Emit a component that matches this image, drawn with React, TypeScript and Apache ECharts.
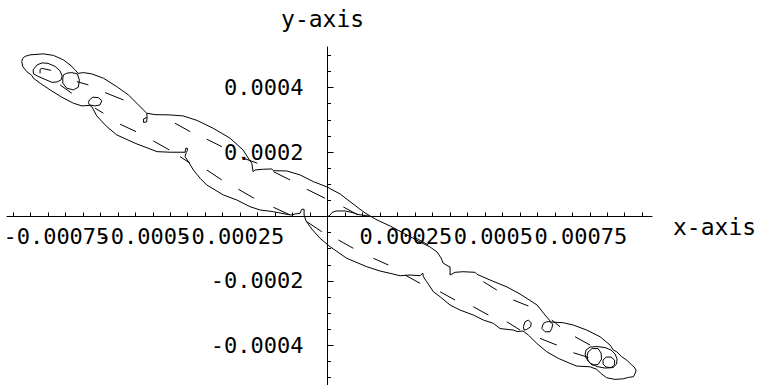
import { useEffect, useRef } from "react";
import * as echarts from "echarts";

// Contour coordinates below are stored in units of 1e-5.
const UNIT = 1e-5;

const FONT = "DejaVu Sans Mono";

const X_MIN = -0.000917;
const X_MAX = 0.000928;
const Y_MIN = -0.000523;
const Y_MAX = 0.000526;

const X_LABEL_VALUES = [-0.00075, -0.0005, -0.00025, 0.00025, 0.0005, 0.00075];
const X_LABEL_TEXT = ["-0.00075", "-0.0005", "-0.00025", "0.00025", "0.0005", "0.00075"];
const Y_LABEL_VALUES = [-0.0004, -0.0002, 0.0002, 0.0004];
const Y_LABEL_TEXT = ["-0.0004", "-0.0002", "0.0002", "0.0004"];
const Y_MAJOR_TICKS = [-0.0004, -0.0002, 0.0002, 0.0004];

// Solid contour, upper side of the band (left tip -> right tip)
const OUTLINE_UPPER = [
  [-87.47, 48.07], [-87.24, 49.07], [-86.53, 49.69], [-85.1, 50.16], [-81.29, 50.47],
  [-78.43, 50.0], [-75.57, 48.6], [-73.66, 47.05], [-72.22, 45.5], [-71.37, 44.41],
  [-69.85, 44.66], [-67.45, 44.25], [-64.13, 42.92], [-60.3, 40.31], [-56.98, 37.73],
  [-54.58, 35.16], [-52.69, 33.07], [-51.72, 32.05], [-49.34, 31.61], [-45.05, 31.52],
  [-41.33, 31.21], [-37.33, 29.81], [-32.75, 27.39], [-27.89, 24.29], [-24.17, 20.65],
  [-22.74, 18.17], [-21.68, 16.52], [-21.31, 13.91], [-20.74, 14.44], [-18.36, 14.66],
  [-15.96, 14.75], [-15.5, 14.22], [-11.67, 14.13], [-7.87, 12.89], [-4.06, 10.81],
  [-0.14, 9.16], [3.58, 6.99], [7.29, 3.88], [10.73, 1.09], [14.16, -1.09],
  [17.88, -2.95], [22.17, -5.43], [26.46, -7.92], [29.32, -9.47], [31.32, -11.02],
  [32.47, -12.89], [33.04, -14.44], [34.18, -15.22], [35.04, -15.68], [35.04, -18.17],
  [36.47, -17.33], [38.76, -17.14], [42.19, -17.33], [42.76, -17.95], [46.48, -19.72],
  [51.34, -21.89], [55.06, -24.07], [59.93, -27.48], [62.21, -30.59], [63.93, -32.76],
  [67.45, -32.98], [70.31, -33.7], [74.14, -35.25], [77.95, -37.33], [80.81, -39.91],
  [81.75, -41.46], [82.72, -41.99], [84.15, -43.54], [85.58, -44.57], [87.01, -46.12],
  [87.67, -46.65], [88.24, -47.67],
];

// Solid contour, lower side of the band (left tip -> right tip)
const OUTLINE_LOWER = [
  [-87.47, 48.07], [-87.18, 46.52], [-86.04, 44.97], [-84.61, 43.79], [-84.15, 42.92],
  [-82.24, 41.37], [-79.38, 39.29], [-76.03, 37.02], [-72.71, 35.16], [-70.31, 34.32],
  [-68.13, 34.47], [-67.45, 34.1], [-66.02, 31.21], [-63.16, 27.89], [-60.3, 25.31],
  [-55.06, 22.73], [-48.77, 20.12], [-45.05, 19.94], [-40.76, 19.94], [-40.56, 21.18],
  [-40.1, 21.18], [-40.1, 20.43], [-40.47, 19.81], [-40.76, 18.57], [-39.82, 17.02],
  [-38.39, 14.44], [-36.47, 11.86], [-34.55, 9.78], [-32.18, 8.23], [-29.81, 6.68],
  [-25.97, 5.12], [-22.17, 3.04], [-19.31, 2.02], [-15.5, 1.49], [-12.16, 0.78],
  [-10.24, 0.47], [-9.3, 0.78], [-7.87, 0.99], [-7.38, 2.24], [-6.72, 2.24],
  [-6.72, 0.47], [-6.15, -1.4], [-4.52, -3.88], [-2.15, -6.77], [0.72, -9.38],
  [5.49, -12.98], [11.21, -15.59], [15.02, -16.93], [17.88, -17.64], [20.74, -18.39],
  [23.6, -18.17], [26.46, -18.39], [27.23, -17.55], [27.4, -18.7], [28.37, -20.25],
  [30.26, -23.35], [32.18, -24.91], [35.04, -27.48], [37.9, -29.04], [41.7, -30.59],
  [44.57, -32.14], [47.43, -33.17], [49.34, -34.78], [53.15, -35.25], [54.2, -35.71],
  [55.92, -35.56], [57.44, -36.8], [59.84, -39.38], [62.7, -41.99], [66.02, -44.04],
  [69.36, -45.59], [71.28, -46.43], [75.09, -46.65], [77.0, -47.45], [78.43, -48.91],
  [79.86, -50.06], [82.24, -50.56], [84.61, -50.37], [86.04, -49.94], [87.47, -49.75],
  [87.96, -48.7], [88.24, -47.67],
];

// Small closed contours and steps along the band
const LOOP_UPPER_LEFT = [
  [-84.24, 45.5], [-83.09, 47.05], [-81.66, 47.67], [-79.95, 47.52], [-77.95, 46.58],
  [-76.52, 45.19], [-75.94, 43.63], [-76.23, 42.39], [-77.37, 41.77], [-78.8, 41.62],
  [-80.81, 42.55], [-82.81, 43.48], [-84.1, 44.25], [-84.24, 45.5],
];
const HOOK_UPPER_LEFT = [[-82.24, 44.41], [-82.24, 45.65], [-81.66, 45.96], [-79.09, 45.34]];
const BLOB_E = [
  [-75.57, 43.94], [-74.6, 44.47], [-73.17, 44.66], [-71.57, 44.25], [-71.0, 42.39],
  [-71.28, 40.12], [-72.71, 39.29], [-74.6, 39.81], [-75.74, 41.37], [-75.74, 42.92],
  [-75.57, 43.94],
];
const BLOB_F = [
  [-68.13, 36.18], [-67.16, 37.02], [-65.56, 36.89], [-64.59, 35.96], [-65.07, 34.63],
  [-66.5, 34.32], [-68.13, 34.63], [-68.42, 35.34], [-68.13, 36.18],
];
const NOTCH_G = [
  [-51.72, 32.05], [-51.63, 30.75], [-52.63, 30.28], [-52.63, 29.19], [-51.77, 29.35],
  [-51.63, 30.75],
];
const STEP_ORIGIN = [
  [0, -0.16], [0.72, 0.47], [1.29, 1.24], [2.43, 1.71], [5.01, 1.71], [7.01, 1.24],
  [8.72, 0.62], [12.16, 0.06],
];
const BLOB_S1 = [
  [56.49, -32.67], [57.44, -32.14], [58.21, -32.98], [58.12, -34.22], [56.98, -35.03],
  [56.21, -35.25], [56.01, -34.22], [56.49, -32.67],
];
const BLOB_S2 = [
  [61.73, -33.17], [62.7, -32.67], [63.64, -32.67], [64.42, -33.39], [64.13, -34.72],
  [63.64, -35.78], [62.21, -35.78], [61.27, -34.72], [61.73, -33.17],
];
const LOOP_LR1 = [
  [73.94, -41.46], [75.09, -40.53], [77.09, -40.37], [79.38, -40.68], [81.09, -41.46],
  [82.24, -42.7], [82.81, -44.25], [82.67, -45.81], [81.66, -46.89], [79.38, -47.05],
  [77.09, -46.58], [75.09, -45.5], [73.94, -43.94], [73.66, -42.7], [73.94, -41.46],
];
const LOOP_LR2 = [
  [74.51, -42.08], [75.66, -40.99], [77.37, -40.99], [78.23, -42.39], [78.37, -44.25],
  [77.37, -45.96], [75.66, -46.12], [74.51, -44.88], [74.23, -43.32], [74.51, -42.08],
];
const LOOP_LR3 = [
  [78.8, -44.57], [79.66, -43.63], [81.09, -43.63], [82.09, -44.57], [82.09, -46.12],
  [81.09, -46.89], [79.66, -46.74], [78.8, -45.81], [78.8, -44.57],
];

// Dashed contour: each entry is one dash [x1, y1, x2, y2]
const DASHES_UPPER = [
  [-71.74, 41.86, -68.42, 40.84], [-63.64, 38.45, -58.41, 36.18], [-43.62, 28.94, -39.33, 26.34],
  [-34.55, 23.98, -30.26, 21.68], [-24.54, 18.26, -20.08, 16.52], [-15.5, 13.91, -10.73, 11.34],
  [-5.95, 8.45, -0.72, 5.65], [4.52, 2.95, 8.72, 0.47], [24.54, -6.27, 28.83, -8.85],
  [44.57, -20.25, 48.4, -22.83], [53.15, -25.93, 57.44, -27.79], [64.13, -32.14, 66.5, -34.22],
  [70.79, -37.33, 75.09, -39.91],
];
const DASHES_LOWER = [
  [-76.52, 40.84, -73.17, 38.26], [-66.5, 33.6, -64.13, 32.05], [-59.35, 28.63, -54.78, 26.34],
  [-49.83, 23.45, -45.25, 20.65], [-42.19, 18.57, -39.33, 16.52], [-34.55, 14.44, -30.26, 11.34],
  [-25.51, 8.45, -21.02, 5.65], [-15.5, 2.86, -10.73, 0.47], [-5.95, -1.61, -1.66, -4.72],
  [3.09, -7.3, 7.38, -9.88], [13.1, -12.98, 17.39, -15.06], [22.17, -18.17, 26.46, -20.75],
  [32.18, -23.35, 36.47, -25.93], [41.7, -28.01, 46.0, -30.59], [51.26, -32.67, 55.06, -35.25],
  [60.78, -37.83, 65.56, -39.91], [70.31, -42.3, 74.6, -43.73],
];

const SOLID_CONTOURS = [
  OUTLINE_UPPER, OUTLINE_LOWER, LOOP_UPPER_LEFT, HOOK_UPPER_LEFT, BLOB_E, BLOB_F, NOTCH_G,
  STEP_ORIGIN, BLOB_S1, BLOB_S2, LOOP_LR1, LOOP_LR2, LOOP_LR3,
];

const toCoords = (pts: number[][]) => pts.map(([x, y]) => [x * UNIT, y * UNIT]);

// tick positions every 0.00005 along both axes
const xTicks = Array.from({ length: 37 }, (_, i) => (i - 18) * 5e-5).filter((v) => Math.abs(v) > 1e-12);
const yTicks = Array.from({ length: 21 }, (_, i) => (i - 10) * 5e-5).filter((v) => Math.abs(v) > 1e-12);

export default function App() {
  const ref = useRef<HTMLDivElement>(null);

  useEffect(() => {
    if (!ref.current) return;
    const chart = echarts.init(ref.current, null, { renderer: "svg" });
    const lineStyle = { color: "#000", width: 1, opacity: 1, curveness: 0 };

    chart.setOption({
      animation: false,
      backgroundColor: "#fff",
      grid: { left: 7, top: 47, width: 645, height: 338, containLabel: false },
      xAxis: {
        type: "value",
        min: X_MIN,
        max: X_MAX,
        axisLine: { show: true, onZero: true, onZeroAxisIndex: 0, lineStyle: { color: "#000", width: 1 } },
        axisTick: { show: true, inside: true, length: 4, customValues: xTicks, lineStyle: { color: "#000" } },
        axisLabel: { show: false },
        splitLine: { show: false },
      },
      yAxis: [
        {
          type: "value",
          min: Y_MIN,
          max: Y_MAX,
          position: "left",
          axisLine: { show: true, onZero: true, onZeroAxisIndex: 0, lineStyle: { color: "#000", width: 1 } },
          axisTick: { show: true, inside: true, length: 3.5, customValues: yTicks, lineStyle: { color: "#000" } },
          axisLabel: { show: false },
          splitLine: { show: false },
        },
        {
          type: "value",
          min: Y_MIN,
          max: Y_MAX,
          position: "left",
          axisLine: { show: false, onZero: true, onZeroAxisIndex: 0 },
          axisTick: { show: true, inside: true, length: 6, customValues: Y_MAJOR_TICKS, lineStyle: { color: "#000" } },
          axisLabel: { show: false },
          splitLine: { show: false },
        },
      ],
      series: [
        {
          type: "lines",
          coordinateSystem: "cartesian2d",
          xAxisIndex: 0,
          yAxisIndex: 0,
          polyline: true,
          silent: true,
          lineStyle,
          data: SOLID_CONTOURS.map((pts) => ({ coords: toCoords(pts) })),
        },
        {
          type: "lines",
          coordinateSystem: "cartesian2d",
          xAxisIndex: 0,
          yAxisIndex: 0,
          silent: true,
          lineStyle,
          data: [...DASHES_UPPER, ...DASHES_LOWER].map(([x1, y1, x2, y2]) => ({
            coords: [[x1 * UNIT, y1 * UNIT], [x2 * UNIT, y2 * UNIT]],
          })),
        },
      ],
    });

    // Tick labels and axis titles sit on the axes that cross at the origin,
    // so they are placed from the axes' own scales.
    const px = (v: number) => chart.convertToPixel({ xAxisIndex: 0 }, v) as number;
    const py = (v: number) => chart.convertToPixel({ yAxisIndex: 0 }, v) as number;
    const x0 = px(0);
    const y0 = py(0);
    const labelStyle = { fontFamily: FONT, fontSize: 22, fill: "#000" };
    const titleStyle = { fontFamily: FONT, fontSize: 23, fill: "#000" };

    const xLabels = X_LABEL_VALUES.map((v, i) => ({
      type: "text",
      x: px(v) - 9,
      y: y0 + 20,
      silent: true,
      style: { ...labelStyle, text: X_LABEL_TEXT[i], align: "center", verticalAlign: "middle" },
    }));
    const yLabels = Y_LABEL_VALUES.map((v, i) => ({
      type: "text",
      x: x0 - 24,
      y: py(v),
      silent: true,
      style: { ...labelStyle, text: Y_LABEL_TEXT[i], align: "right", verticalAlign: "middle" },
    }));

    chart.setOption({
      graphic: [
        ...xLabels,
        ...yLabels,
        {
          type: "text",
          x: x0 - 5,
          y: 18.5,
          silent: true,
          style: { ...titleStyle, text: "y-axis", align: "center", verticalAlign: "middle" },
        },
        {
          type: "text",
          x: px(X_MAX) + 21,
          y: y0 + 10.5,
          silent: true,
          style: { ...titleStyle, text: "x-axis", align: "left", verticalAlign: "middle" },
        },
      ],
    });

    return () => chart.dispose();
  }, []);

  return (
    <div
      ref={ref}
      style={{ position: "fixed", left: 0, top: 0, width: 760, height: 385, background: "#fff" }}
    />
  );
}
